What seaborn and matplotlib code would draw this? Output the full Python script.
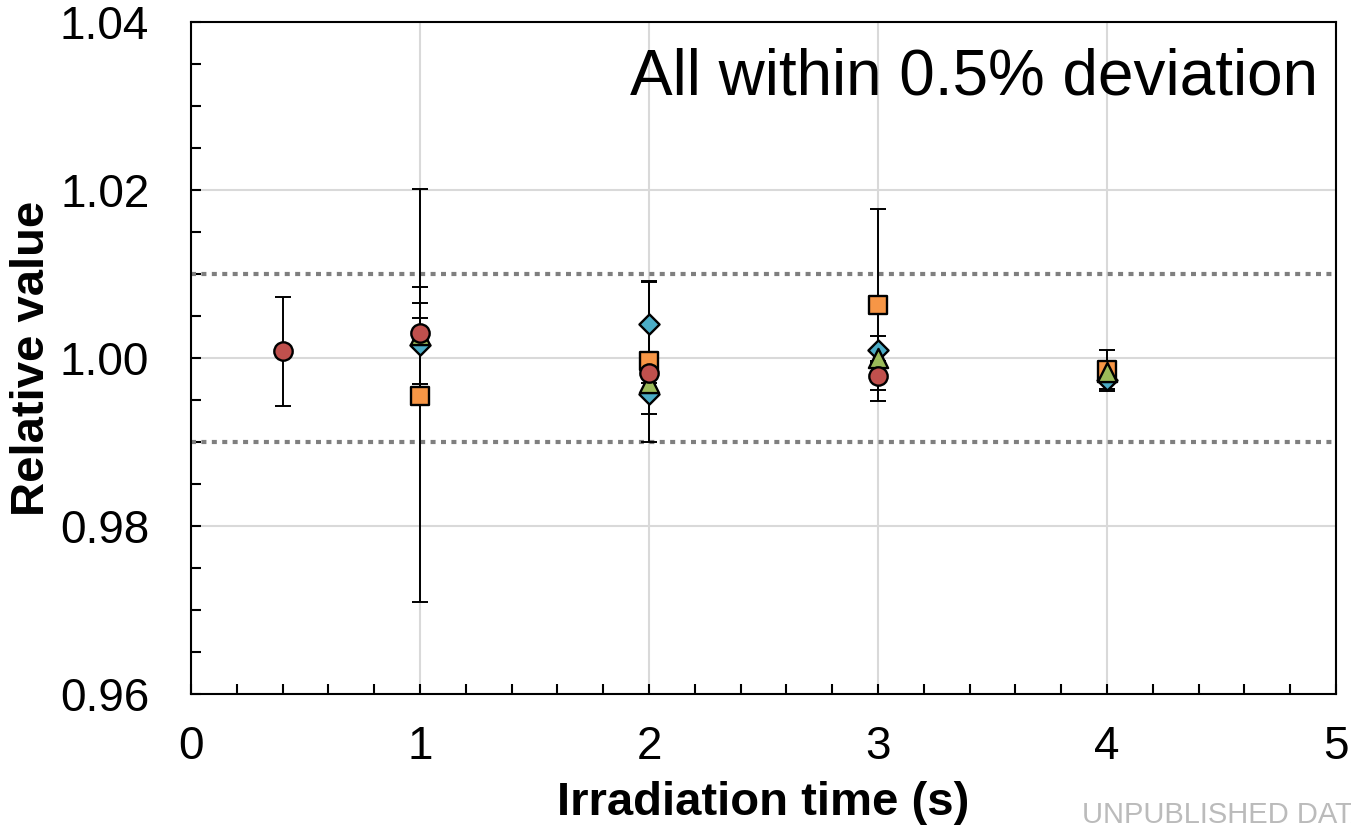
import numpy as np
import pandas as pd
import matplotlib
matplotlib.use("Agg")
import matplotlib.pyplot as plt
from matplotlib.ticker import MultipleLocator
import seaborn as sns

# data
series_names = ["square", "diamond", "triangle", "circle"]

sq_x = [1, 2, 3, 4]
sq_y = [0.9955, 0.9996, 1.0063, 0.9986]
sq_err = [0.0246, 0.0096, 0.0114, 0.0023]

dm_x = [1, 2, 2, 3, 4]
dm_y = [1.0015, 1.0041, 0.9957, 1.0010, 0.9974]
dm_err = [0.0050, 0.0050, 0.0024, 0.0016, 0.0013]

tr_x = [1, 2, 3, 4]
tr_y = [1.0027, 0.9970, 1.0000, 0.9983]
tr_err = [0.0058, 0.0010, 0.0010, 0.0010]

ci_x = [0.4, 1, 2, 3]
ci_y = [1.0008, 1.0030, 0.9982, 0.9979]
ci_err = [0.0065, 0.0018, 0.0012, 0.0017]

y_limits = [0.96, 1.04]
x_limits = [0, 5]
band = [0.99, 1.01]

note_text = "All within 0.5% deviation"
x_title = "Irradiation time (s)"
y_title = "Relative value"
stamp = "UNPUBLISHED DATA"


def build_frame():
    # one long table, drawing order: squares, diamonds, triangles, circles
    parts = []
    for name, xs, ys, es in zip(series_names,
                                [sq_x, dm_x, tr_x, ci_x],
                                [sq_y, dm_y, tr_y, ci_y],
                                [sq_err, dm_err, tr_err, ci_err]):
        parts.append(pd.DataFrame({"series": name, "x": xs, "y": ys,
                                   "err": es}))
    return pd.concat(parts, ignore_index=True)


def main():
    sns.set_theme(style="white")
    plt.rcParams["font.family"] = ["Liberation Sans", "DejaVu Sans"]
    # seaborn makes text dark grey, the reference is pure black
    for key in ["text.color", "axes.labelcolor", "xtick.color",
                "ytick.color"]:
        plt.rcParams[key] = "black"

    df = build_frame()

    fig = plt.figure(figsize=(13.51, 8.26), dpi=100)
    ax = fig.add_axes([0.1414, 0.1598, 0.8475, 0.8136])

    # grid lines at major ticks
    ax.set_axisbelow(True)
    ax.grid(True, which="major", color="#D9D9D9", linewidth=1.5)

    # the +-1% band
    for b in band:
        ax.axhline(b, color="#7F7F7F", linewidth=3, linestyle=(0, (1.2, 1.3)),
                   dash_capstyle="butt", zorder=1.5)

    # error bars under the markers
    for name in series_names:
        sub = df[df["series"] == name]
        ax.errorbar(sub["x"], sub["y"], yerr=sub["err"], fmt="none",
                    ecolor="black", elinewidth=1.4, capsize=6,
                    capthick=1.4, zorder=2)

    colors = {"square": "#F79646", "diamond": "#4BACC6",
              "triangle": "#9BBB59", "circle": "#C0504D"}
    markers = {"square": "s", "diamond": "D", "triangle": "^",
               "circle": "o"}
    sizes = {"square": 160, "diamond": 105, "triangle": 190, "circle": 175}

    for name in series_names:
        sub = df[df["series"] == name]
        sns.scatterplot(data=sub, x="x", y="y", color=colors[name],
                        marker=markers[name], s=sizes[name],
                        edgecolor="black", linewidth=1.7, ax=ax,
                        zorder=3, legend=False)

    ax.set_xlim(x_limits)
    ax.set_ylim(y_limits)
    ax.xaxis.set_major_locator(MultipleLocator(1))
    ax.xaxis.set_minor_locator(MultipleLocator(0.2))
    ax.yaxis.set_major_locator(MultipleLocator(0.02))
    ax.yaxis.set_minor_locator(MultipleLocator(0.005))
    ax.yaxis.set_major_formatter(plt.FormatStrFormatter("%.2f"))

    ax.tick_params(which="both", direction="in", length=7, width=1.5,
                   color="black", bottom=True, left=True, top=False,
                   right=False)
    ax.tick_params(axis="x", which="major", labelsize=33, pad=22)
    ax.tick_params(axis="y", which="major", labelsize=33, pad=30)

    for spine in ax.spines.values():
        spine.set_color("black")
        spine.set_linewidth(1.5)

    ax.set_xlabel(x_title, fontsize=34, fontweight="bold", labelpad=9)
    ax.set_ylabel(y_title, fontsize=34, fontweight="bold", labelpad=4)

    ax.text(0.984, 0.892, note_text, transform=ax.transAxes, ha="right",
            va="baseline", fontsize=46, color="black")

    fig.text(0.801, 0.004, stamp, ha="left", va="baseline", fontsize=21,
             color="#BBBBBB")

    fig.savefig("out.png", dpi=100)


if __name__ == "__main__":
    main()
